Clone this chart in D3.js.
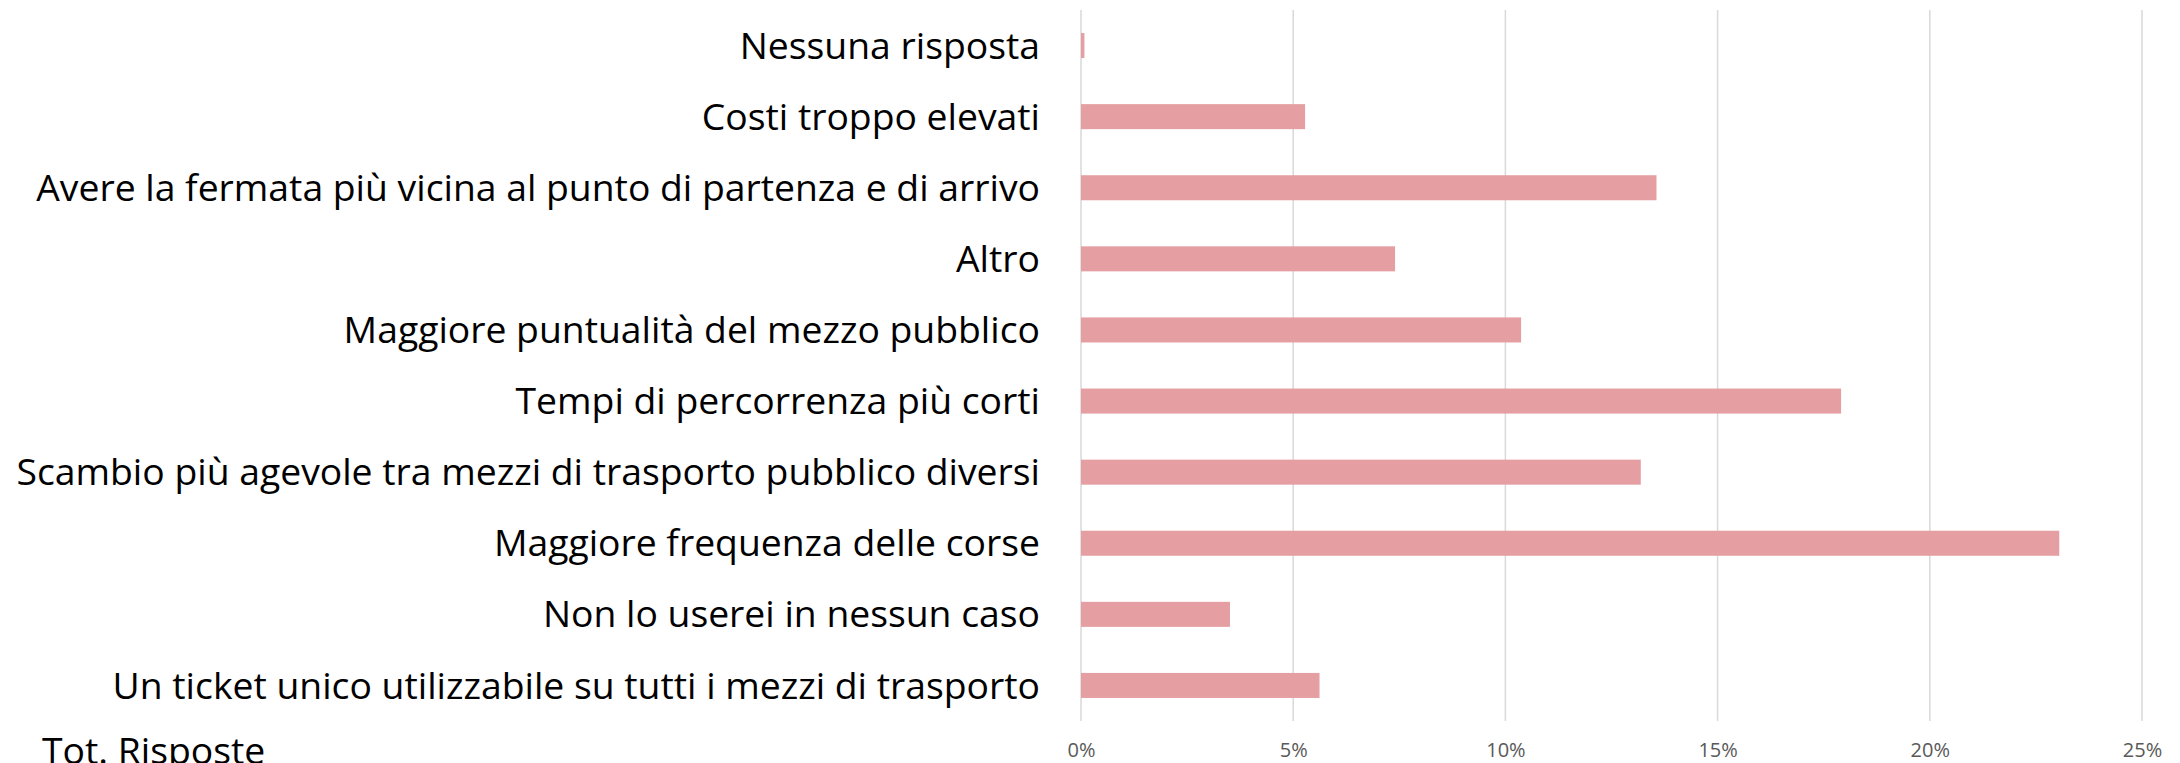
<!DOCTYPE html>
<html><head><meta charset="utf-8">
<script src="https://cdn.jsdelivr.net/npm/d3@7"></script>
<style>html,body{margin:0;padding:0;background:#fff;overflow:hidden}</style>
</head><body>
<svg id="c" width="2180" height="763"></svg>
<script>
const categories = [
  "Nessuna risposta",
  "Costi troppo elevati",
  "Avere la fermata più vicina al punto di partenza e di arrivo",
  "Altro",
  "Maggiore puntualità del mezzo pubblico",
  "Tempi di percorrenza più corti",
  "Scambio più agevole tra mezzi di trasporto pubblico diversi",
  "Maggiore frequenza delle corse",
  "Non lo userei in nessun caso",
  "Un ticket unico utilizzabile su tutti i mezzi di trasporto"
];
const values = [0.08, 5.28, 13.56, 7.40, 10.37, 17.91, 13.19, 23.05, 3.51, 5.62];
const tickValues = [0, 5, 10, 15, 20, 25];
const tickLabels = ["0%", "5%", "10%", "15%", "20%", "25%"];
const footerLabel = "Tot. Risposte";

const svg = d3.select("#c");
const x = d3.scaleLinear().domain([0, 25]).range([1081, 2142]);
const y = d3.scaleBand().domain(categories).range([10, 721]).paddingInner(0.648).paddingOuter(0.324);

// gridlines
svg.append("g").selectAll("line").data(tickValues).join("line")
  .attr("x1", d => x(d)).attr("x2", d => x(d))
  .attr("y1", 10).attr("y2", 721)
  .attr("stroke", "#d9d9d9").attr("stroke-width", 1.5);

// bars
svg.append("g").selectAll("rect").data(values).join("rect")
  .attr("x", x(0))
  .attr("y", (d, i) => y(categories[i]))
  .attr("width", d => x(d) - x(0))
  .attr("height", y.bandwidth())
  .attr("fill", "#e59ea1");

// category labels
svg.append("g").selectAll("text").data(categories).join("text")
  .attr("x", 1040)
  .attr("y", d => y(d) + y.bandwidth() / 2)
  .attr("dy", "0.35em")
  .attr("text-anchor", "end")
  .attr("font-family", "'Open Sans', sans-serif")
  .attr("font-size", 37.3)
  .attr("fill", "#000")
  .text(d => d);

// x axis tick labels
const xAxis = d3.axisBottom(x).tickValues(tickValues).tickFormat((d, i) => tickLabels[i]).tickSize(0).tickPadding(0);
const gx = svg.append("g").attr("transform", "translate(0,757)").call(xAxis);
gx.select(".domain").remove();
gx.selectAll("text")
  .attr("font-family", "'Open Sans', sans-serif")
  .attr("font-size", 20)
  .attr("fill", "#595959")
  .attr("y", 0)
  .attr("dy", "0");

svg.append("text")
  .attr("x", 42).attr("y", 764)
  .attr("font-family", "'Open Sans', sans-serif")
  .attr("font-size", 37.3)
  .attr("fill", "#000")
  .text(footerLabel);
</script>
</body></html>
